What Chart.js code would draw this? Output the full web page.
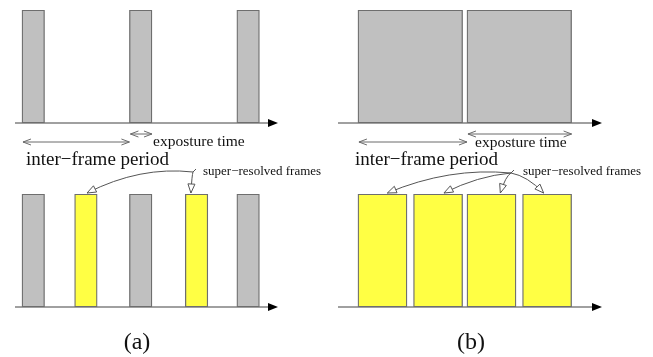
<!DOCTYPE html>
<html>
<head>
<meta charset="utf-8">
<script src="https://cdn.jsdelivr.net/npm/chart.js@4"></script>
<style>
body { margin: 0; background: #fff; }
#figure { position: relative; width: 653px; height: 357px; overflow: hidden; background: #fff; }
#figure canvas { position: absolute; }
</style>
</head>
<body>
<div id="figure">
  <canvas id="aTop" width="326" height="170" style="left:0px;top:0px"></canvas>
  <canvas id="aBottom" width="326" height="197" style="left:0px;top:160px"></canvas>
  <canvas id="bTop" width="313" height="170" style="left:330px;top:0px"></canvas>
  <canvas id="bBottom" width="313" height="197" style="left:330px;top:160px"></canvas>
</div>
<script>
// times are in units of the inter-frame period, bars are [start, end] of the exposure
const capturedA = [[0, 0.21], [1, 1.21], [2, 2.21]];
const superResA = [[0.49, 0.70], [1.52, 1.73]];
const capturedB = [[0, 0.96], [1, 1.96]];
const superResB = [[0, 0.45], [0.51, 0.96], [1, 1.45], [1.51, 1.96]];
const interFrameA = [0, 1];
const exposureA = [1, 1.21];
const interFrameB = [0, 1];
const exposureB = [1, 1.96];
const timeRangeA = [-0.065, 2.29];
const timeRangeB = [-0.183, 2.147];
const periodLabel = "inter\u2212frame period";
const exposureLabel = "exposture time";
const superLabel = "super\u2212resolved frames";
const captions = ["(a)", "(b)"];

const GRAY = "#c0c0c0";
const YELLOW = "#ffff44";
const EDGE = "#6e6e6e";
const LINE = "#808080";
const SERIF = "'Liberation Serif', 'Times New Roman', serif";

function toBars(list) {
    return list.map(r => ({ x: r, y: "f" }));
}

function barSet(list, color) {
    return {
        data: toBars(list),
        backgroundColor: color,
        borderColor: EDGE,
        borderWidth: 1.3,
        borderSkipped: false,
        grouped: false,
        categoryPercentage: 1,
        barPercentage: 1
    };
}

function drawAxis(chart) {
    const ctx = chart.ctx;
    const a = chart.chartArea;
    ctx.save();
    ctx.strokeStyle = LINE;
    ctx.lineWidth = 1.5;
    ctx.beginPath();
    ctx.moveTo(a.left, a.bottom);
    ctx.lineTo(a.right + 2, a.bottom);
    ctx.stroke();
    ctx.fillStyle = "#000";
    ctx.beginPath();
    ctx.moveTo(a.right + 10, a.bottom);
    ctx.lineTo(a.right, a.bottom - 4);
    ctx.lineTo(a.right, a.bottom + 4);
    ctx.closePath();
    ctx.fill();
    ctx.restore();
}

function barb(ctx, tx, ty, fx, fy, len, half) {
    const ang = Math.atan2(ty - fy, tx - fx);
    const c = Math.cos(ang), s = Math.sin(ang);
    ctx.beginPath();
    ctx.moveTo(tx - c * len - s * half, ty - s * len + c * half);
    ctx.lineTo(tx, ty);
    ctx.lineTo(tx - c * len + s * half, ty - s * len - c * half);
    ctx.stroke();
}

function openHead(ctx, tx, ty, fx, fy) {
    const ang = Math.atan2(ty - fy, tx - fx);
    const c = Math.cos(ang), s = Math.sin(ang);
    const len = 9, half = 3.5;
    ctx.beginPath();
    ctx.moveTo(tx, ty);
    ctx.lineTo(tx - c * len - s * half, ty - s * len + c * half);
    ctx.lineTo(tx - c * len + s * half, ty - s * len - c * half);
    ctx.closePath();
    ctx.fillStyle = "#fff";
    ctx.fill();
    ctx.stroke();
}

function span(ctx, x1, x2, y) {
    ctx.beginPath();
    ctx.moveTo(x1, y);
    ctx.lineTo(x2, y);
    ctx.stroke();
    barb(ctx, x1, y, x2, y, 8, 3);
    barb(ctx, x2, y, x1, y, 8, 3);
}

const timelinePlugin = {
    id: "timeline",
    beforeDatasetsDraw(chart, args, o) {
        drawAxis(chart);
    },
    afterDraw(chart, args, o) {
        const ctx = chart.ctx;
        const sx = chart.scales.x;
        const b = chart.chartArea.bottom;
        ctx.save();
        ctx.strokeStyle = "#6a6a6a";
        ctx.lineWidth = 1;
        span(ctx, sx.getPixelForValue(o.exposure[0]) + 1, sx.getPixelForValue(o.exposure[1]), b + 11);
        span(ctx, sx.getPixelForValue(o.period[0]) + 1, sx.getPixelForValue(o.period[1]), b + 19);
        ctx.fillStyle = "#111";
        ctx.textBaseline = "alphabetic";
        ctx.font = "15.5px " + SERIF;
        ctx.fillText(exposureLabel, o.exposureText[0], o.exposureText[1]);
        ctx.font = "19px " + SERIF;
        ctx.fillText(periodLabel, o.periodText[0], o.periodText[1]);
        ctx.restore();
    }
};

const pointerPlugin = {
    id: "pointers",
    beforeDatasetsDraw(chart, args, o) {
        drawAxis(chart);
    },
    afterDraw(chart, args, o) {
        const ctx = chart.ctx;
        const bars = chart.getDatasetMeta(o.dataset).data;
        const [ox, oy] = o.origin;
        ctx.save();
        ctx.strokeStyle = "#555";
        ctx.lineWidth = 1;
        // small hook under the label
        ctx.beginPath();
        ctx.moveTo(ox, oy);
        ctx.lineTo(ox + 3, oy - 3);
        ctx.stroke();
        bars.forEach((bar, i) => {
            const p = bar.getProps(["x", "y", "base", "height"], true);
            const tx = p.base + (p.x - p.base) * o.tips[i];
            const ty = p.y - p.height / 2 - 1;
            const far = Math.abs(ox - tx) > 80;
            const cx = (ox + tx) / 2;
            const cy = far ? oy - 6 : oy + 3;
            ctx.beginPath();
            ctx.moveTo(ox, oy);
            ctx.quadraticCurveTo(cx, cy, tx, ty);
            ctx.stroke();
            openHead(ctx, tx, ty, cx, cy);
        });
        ctx.fillStyle = "#111";
        ctx.font = "13px " + SERIF;
        ctx.textBaseline = "alphabetic";
        ctx.fillText(superLabel, o.labelAt[0], o.labelAt[1]);
        ctx.font = "24px " + SERIF;
        ctx.textAlign = "center";
        ctx.textBaseline = "middle";
        ctx.fillText(o.caption, o.captionAt[0], o.captionAt[1]);
        ctx.restore();
    }
};

function makeChart(id, datasets, range, padding, plugin, pluginOpts) {
    const plugins = { legend: { display: false }, tooltip: { enabled: false } };
    plugins[plugin.id] = pluginOpts;
    return new Chart(document.getElementById(id), {
        type: "bar",
        data: { labels: ["f"], datasets: datasets },
        options: {
            indexAxis: "y",
            responsive: false,
            animation: false,
            devicePixelRatio: 1,
            layout: { padding: padding },
            scales: {
                x: { type: "linear", min: range[0], max: range[1], display: false },
                y: { type: "category", display: false }
            },
            plugins: plugins
        },
        plugins: [plugin]
    });
}

makeChart("aTop", [barSet(capturedA, GRAY)], timeRangeA,
    { left: 15, right: 58, top: 10, bottom: 47 }, timelinePlugin,
    { exposure: exposureA, period: interFrameA, exposureText: [153, 146], periodText: [26, 165] });

makeChart("bTop", [barSet(capturedB, GRAY)], timeRangeB,
    { left: 8, right: 51, top: 10, bottom: 47 }, timelinePlugin,
    { exposure: exposureB, period: interFrameB, exposureText: [145, 147], periodText: [25, 165] });

makeChart("aBottom", [barSet(capturedA, GRAY), barSet(superResA, YELLOW)], timeRangeA,
    { left: 15, right: 58, top: 34, bottom: 50 }, pointerPlugin,
    { dataset: 1, tips: [0.55, 0.25], origin: [193, 12], labelAt: [203, 15], caption: captions[0], captionAt: [137, 183] });

makeChart("bBottom", [barSet(superResB, YELLOW)], timeRangeB,
    { left: 8, right: 51, top: 34, bottom: 50 }, pointerPlugin,
    { dataset: 0, tips: [0.6, 0.62, 0.68, 0.43], origin: [181, 13], labelAt: [193, 15], caption: captions[1], captionAt: [141, 183] });
</script>
</body>
</html>
